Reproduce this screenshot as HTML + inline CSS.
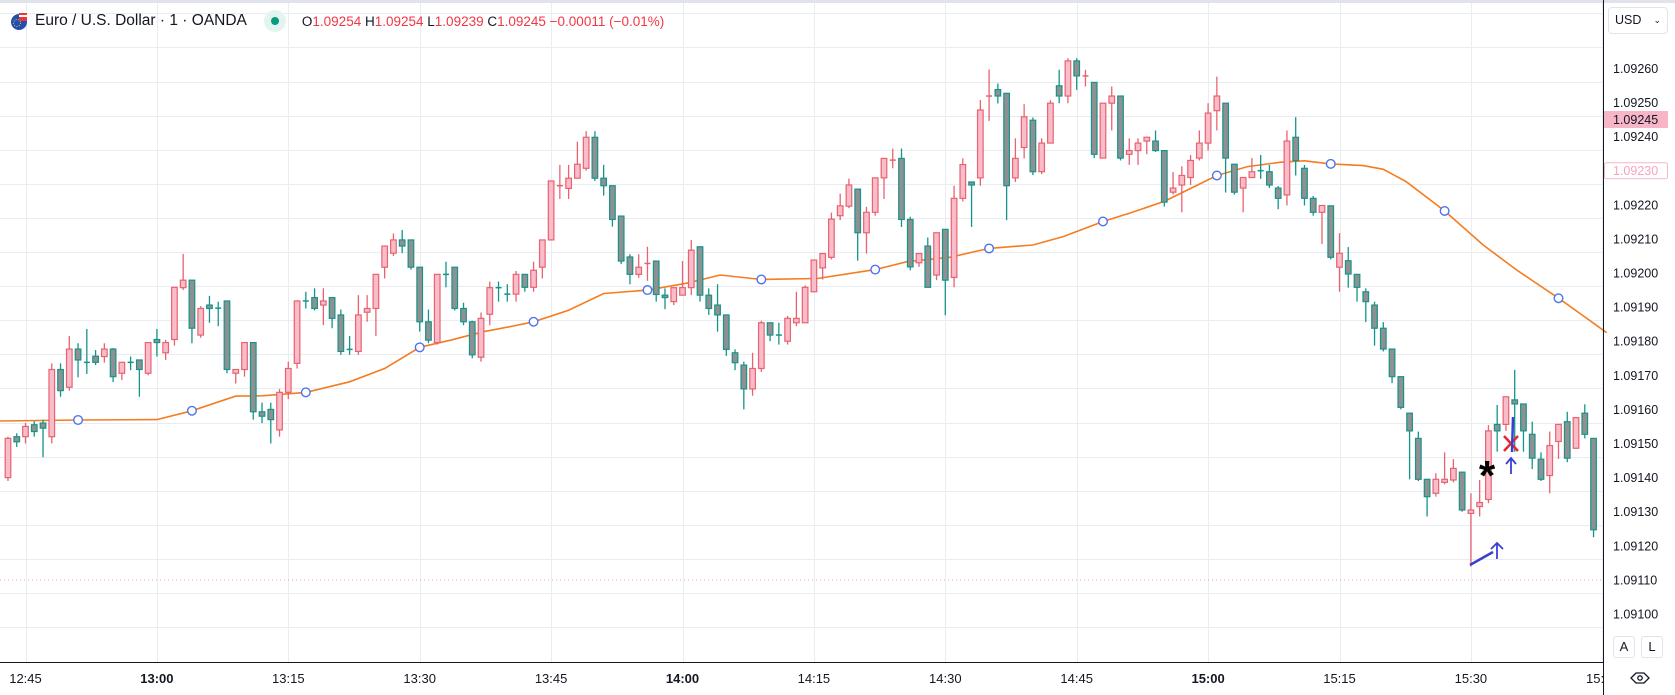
<!DOCTYPE html>
<html><head><meta charset="utf-8">
<style>
html,body{margin:0;padding:0;background:#fff;}
body{width:1675px;height:695px;position:relative;overflow:hidden;font-family:"Liberation Sans",sans-serif;}
#topbar{position:absolute;left:0;top:0;width:1675px;height:3px;background:#e0e3eb;}
#hdr{position:absolute;left:0;top:8px;height:26px;display:flex;align-items:center;white-space:nowrap;}
</style></head>
<body>
<div id="topbar"></div>
<svg id="chart" width="1675" height="695" style="position:absolute;left:0;top:0" xmlns="http://www.w3.org/2000/svg">
  <g id="grid"></g>
  <g id="ma"></g>
  <g id="candles"></g>
  <g id="annot">
    <line x1="0" y1="580" x2="1603" y2="580" stroke="#f2a0b0" stroke-width="1" stroke-dasharray="1,3"/>
    <text x="1487" y="490" font-size="42" font-weight="bold" text-anchor="middle" fill="#000" font-family="Liberation Sans, sans-serif">*</text>
    <g stroke="#e8262d" stroke-width="2.5">
      <line x1="1504" y1="436" x2="1518" y2="451"/><line x1="1518" y1="436" x2="1504" y2="451"/>
    </g>
    <line x1="1513" y1="417" x2="1512" y2="452" stroke="#3a3fd0" stroke-width="2.5"/>
    <g stroke="#3a3fd0" stroke-width="1.8" fill="none">
      <line x1="1511" y1="458" x2="1511" y2="474"/><polyline points="1506,464 1511,458 1516,464"/>
    </g>
    <line x1="1470" y1="565" x2="1493" y2="552" stroke="#3a3fd0" stroke-width="2.5"/>
    <g stroke="#3a3fd0" stroke-width="1.8" fill="none">
      <line x1="1497" y1="543" x2="1497" y2="559"/><polyline points="1491,549 1497,543 1503,549"/>
    </g>
  </g>
  <line x1="1603.5" y1="0" x2="1603.5" y2="695" stroke="#131722" stroke-width="1"/>
  <line x1="0" y1="662.5" x2="1603" y2="662.5" stroke="#131722" stroke-width="1"/>
  <g id="ylabels"></g>
  <g id="xlabels"></g>
</svg>

<div id="hdr">
  <svg width="20" height="20" style="margin-left:9px">
    <circle cx="10" cy="11" r="8" fill="#1f4fb4"/><rect x="10" y="2" width="8" height="8" fill="#e33"/><rect x="10" y="4" width="8" height="2" fill="#fff"/>
    <circle cx="8" cy="12" r="3.5" fill="none" stroke="#fc0" stroke-width="1" stroke-dasharray="1,1.5"/>
  </svg>
  <span style="font-size:15.5px;color:#131722;margin-left:6px">Euro / U.S. Dollar · 1 · OANDA</span>
  <span style="display:inline-block;width:22px;height:22px;border-radius:11px;background:#e3f4ef;margin-left:17px;position:relative"><span style="position:absolute;left:7px;top:7px;width:8px;height:8px;border-radius:4px;background:#089981"></span></span>
  <span style="font-size:13.5px;color:#131722;margin-left:16px">O<span style="color:#f23645">1.09254</span> H<span style="color:#f23645">1.09254</span> L<span style="color:#f23645">1.09239</span> C<span style="color:#f23645">1.09245 −0.00011 (−0.01%)</span></span>
</div>

<div style="position:absolute;left:1608px;top:7px;width:60px;height:27px;border:1px solid #e0e3eb;border-radius:4px;box-sizing:border-box;font-size:12.5px;color:#131722;line-height:25px;padding-left:6px">USD<span style="position:absolute;right:6px;top:0;font-size:9px">⌄</span></div>
<div style="position:absolute;left:1613px;top:636px;width:22px;height:22px;border:1px solid #e0e3eb;border-radius:3px;box-sizing:border-box;font-size:13px;text-align:center;line-height:20px;color:#131722">A</div>
<div style="position:absolute;left:1641px;top:636px;width:22px;height:22px;border:1px solid #e0e3eb;border-radius:3px;box-sizing:border-box;font-size:13px;text-align:center;line-height:20px;color:#131722">L</div>
<svg style="position:absolute;left:1629px;top:670px" width="22" height="16"><path d="M2 8 L7 3 H15 L20 8 L15 13 H7 Z" fill="none" stroke="#131722" stroke-width="1.3"/><circle cx="11" cy="8" r="2.2" fill="none" stroke="#131722" stroke-width="1.3"/></svg>

<script>
// ---- data (price offsets: value v means 1.09v, in 0.00001 units) ----
const startMinute = -2; // minutes relative to 12:45
const opens = [140,152,152,155.5,156,152,171.7,166.5,177.7,173.8,175.6,175.5,177.7,170.6,173.8,174.5,170.6,180.5,176.6,180.5,195.7,197.9,181.8,190.6,189.7,191.8,170.6,171.7,179.6,159.3,160,154,165,173.5,191.8,192.8,190.6,192.8,187.7,177.6,177,188.5,189.6,201.7,205.8,209.7,209.7,201.7,185.7,179.6,199.6,201.7,189.6,185.7,175.3,187.9,195.7,193.8,193.8,199.6,195.8,201.7,209.7,225.6,224.8,227.8,230.7,239.8,227.8,225.6,216.7,204.7,199.6,202.8,203.5,193.5,191.6,193.5,195.7,207.7,193.5,190.6,187.7,176.6,173,166,172,185.4,181.8,180,185.4,185.4,194.5,201.5,204.6,216.8,219.6,224.6,211.8,217.8,227.9,233.1,233.6,215.7,203,207.9,199.4,212.8,198.7,221.9,226.7,227.9,251.9,253.8,252.7,227.9,236.8,244.8,229.7,238.1,254.9,251.9,262.2,257.8,255.9,233.7,249.8,251.9,234.8,235.9,238.7,238.7,235.9,223.7,225.8,228,233.7,238.1,247.6,249.8,231.9,224.9,228,230,229.7,224.9,222.9,239.8,230.7,221.9,217.8,219.7,201.7,203.6,199.6,194.5,190.6,183.8,177.7,169.6,158.9,151.5,139.5,135.4,138.6,139.3,141.6,129.5,131.5,133.6,155.6,155.6,162.8,161.6,152.7,145.4,140.6,150.6,156.4,148.6,158.9,151.5];
const highs = [152,153,156,156.5,157,173.5,173.5,181.5,179.4,183.6,177.4,179.4,178,174,175.5,174.5,179.6,183.6,180.4,195.8,205.6,198,190.3,193.3,191.6,191.8,171.7,179.6,179.6,162,162,166,174,192,194.5,195.5,195.5,193,189.3,181.5,193.5,193.5,199.6,207.9,211.6,212.6,209.7,201.7,189.3,199.6,203.3,201.7,191.3,186,188.4,197.5,197.5,196.7,200.6,199.6,203.3,209.7,227,231.7,231.7,238.5,241.6,241.6,231.7,225.6,216.7,205.5,205.5,207.7,203.5,195.5,195.7,203.5,209.7,207.7,195.5,196.7,187.7,177.6,174,176.6,186,185.4,185.4,187.4,194.5,196.4,203.8,205.7,217.7,223.3,227.7,224.6,219.4,227.9,233.6,236.5,236.5,216.5,205.7,210.4,211.8,212.8,225.6,233.6,226.7,250.7,259.7,255.6,252.7,239.5,249.5,245.6,239.5,250.7,259.6,263,263,259.6,255.9,249.8,254.7,251.9,239.5,239.5,240,241.8,235.9,229.6,231.3,234.6,241.8,249.8,257.6,249.8,232,228,233.7,234.6,231.7,225.5,241.8,245.7,231.7,222.6,219.8,219.7,211.7,207.6,199.6,195.5,191.6,185.6,177.7,169.6,158.9,153.5,139.5,141.3,147.4,145.4,141.6,135.4,139.3,155.4,161.3,163.7,171.6,161.6,156.4,147.4,153.5,155.6,159.3,157.6,161.5,151.5];
const lows = [139,149,150,152,146,150,163.7,165.5,169.4,170.4,173,173.7,168,168.6,171.5,163.7,170,175.5,174.5,178.7,195,179.4,181,185.4,184.4,170.6,167.6,169.6,157,156,150,152,163,172,189.6,189,184.7,183.8,176,176,176,185.7,181.5,198.4,205,205.8,201,182.8,179.4,179,195.8,189,184.7,175,174,184.7,191.6,191.6,191.6,194.5,194.5,198.4,209.7,221.7,221.7,227.8,230,227,222.7,213.6,202.6,196.7,198.6,197.7,191.6,189.4,190.6,193.5,193.5,191.6,187.7,182.8,175.7,171.5,160,164,171,180,179,179,184.4,185.4,194.5,198.1,204,215.5,219,203.6,205.7,216.8,221.7,230.7,213.5,200.8,201.8,195.8,197.9,187.6,195.8,221,213.5,225.6,244.6,249.7,215.5,226.7,233.6,228.7,229,238,249.8,249.8,253.7,254.7,233.7,233.7,241.8,233,231.7,231.7,234.8,235.5,219.5,223,217.8,225.8,233,235.9,241.8,223.6,223,217.8,228,227.6,224.9,218.7,219.8,228.6,219.8,216.8,208.5,204,194.5,195.7,191.6,185.6,178.7,177,167.7,160,139.5,139,128.6,134.4,138,138.6,130,113.9,128.6,132.5,147.6,153.7,147.6,147.6,142.5,139,135.4,145.5,144.5,148.6,151.5,122.5];
const closes = [151.5,150.5,155,153.5,154.5,171.7,165.5,177.7,174.5,173.6,173.8,177.7,169.6,173.8,173.6,171.7,179.6,179.6,179.6,195.8,197.9,183.8,189.6,189.6,189.5,171.7,171.7,179.6,159.3,158,157,165,172,191.8,191.6,189.6,191.8,186.7,177,177.4,187.7,189.6,199.6,207.9,209.7,207.9,201.7,185.7,180.3,199.6,199.4,189.6,185.7,176,186.7,195.7,195.5,193.6,199.6,195.8,200.8,209.7,227,225.6,227.8,231.9,239.8,227.8,225.6,215.7,203.5,199.6,201.7,202.8,193.7,192.8,195.7,195.7,206.7,193.5,189.6,187.7,177.6,173.7,166,172,185.4,181.8,181.6,186.7,186.7,195.8,203.8,205.7,215.8,219.7,225.8,211.8,217.8,227.9,233.6,233.1,215.7,201.8,205.7,195.8,211.8,197.9,221.9,231.8,225.8,247.8,251.9,251.9,225.6,233.6,245.8,229.7,238.1,249.8,251.9,262.2,257.8,257.8,234.8,249.8,251.9,233.7,235.9,238.1,239.8,235.9,220.8,224.9,228.6,233,238.1,246.9,251.9,233.7,223.7,228,229.7,229.9,225.8,221.9,238.7,233,221.9,217.8,219.8,204.6,205.8,199.7,195.8,191.6,183.8,177.7,169.6,160.6,153.7,139.5,134.4,139.5,139.5,142.7,130.5,130.5,132.7,153.7,153.7,163.7,161.6,153.7,145.7,139.5,149.4,155.6,145.7,157.6,152.7,124.7];
// moving average (minute index, value)
const maIdx = [-3,6,15,19,24,27,32,37,41,45,48.5,52.3,55.4,58,62,66,71,75.5,79.3,84,90.4,97,100.6,105.5,110,115,118.5,123,126,130,133.8,136,139.5,143.3,146,149,152.7,155,157.6,162,166.4,170.2,175,177.8,180.5];
const maVal = [156.6,156.9,157,159.6,163.9,164,165,168.1,172,178.2,180.3,182.8,184.3,185.7,189.1,194,195,197,199.4,198.1,198.4,201,203.3,204.6,207.2,208.2,210.7,215.1,217.5,221,225.8,228.6,231.2,232.5,232.9,232,231.5,230.4,226.8,218.2,208.2,200.9,192.6,187.5,182.5];
const maMarkers = [6,19,32,45,58,71,84,97,110,123,136,149,162,175];
const priceTicks = [260,250,240,220,210,200,190,180,170,160,150,140,130,120,110,100];
const timeLabels = ["12:45","13:00","13:15","13:30","13:45","14:00","14:15","14:30","14:45","15:00","15:15","15:30","15:45"];
const boldLabels = ["13:00","14:00","15:00"];

const NS = "http://www.w3.org/2000/svg";
function xOf(i){ return 25.5 + i*8.76; }
function yOf(p){ return 68.4 + (260-p)*3.41; }
function mk(tag, attrs, parent){ const e=document.createElementNS(NS,tag); for(const k in attrs) e.setAttribute(k,attrs[k]); parent.appendChild(e); return e; }

const grid=document.getElementById('grid');
for(let p=270;p>=90;p-=10){
  const y=Math.round(yOf(p)-21)+0.5;
  const l=mk('line',{x1:0,x2:1603,y1:y,y2:y,stroke:'#e9edf2','stroke-width':1},grid);
  
  
}
for(let k=0;k<timeLabels.length;k++){
  const x=Math.round(xOf(k*15))+0.5;
  if(x>1603) continue;
  const l=mk('line',{x1:x,x2:x,y1:3,y2:662,stroke:'#e9edf2','stroke-width':1},grid);
  
  
}

// MA
const ma=document.getElementById('ma');
let d='';
for(let k=0;k<maIdx.length;k++){ d+=(k?'L':'M')+xOf(maIdx[k]).toFixed(1)+' '+yOf(maVal[k]).toFixed(1)+' '; }
const mp=mk('path',{d:d,fill:'none',stroke:'#f57c1f','stroke-width':1.6},ma);


function maAt(i){ for(let k=1;k<maIdx.length;k++){ if(i<=maIdx[k]){ const t=(i-maIdx[k-1])/(maIdx[k]-maIdx[k-1]); return maVal[k-1]+t*(maVal[k]-maVal[k-1]); } } return maVal[maVal.length-1]; }

// candles
const cg=document.getElementById('candles');
for(let k=0;k<opens.length;k++){
  const i=startMinute+k, x=xOf(i);
  const o=opens[k],h=highs[k],l=lows[k],c=closes[k];
  const up=c>=o;
  const stroke=up?'#e8636f':'#15958a';
  const fill=up?'#f9bccb':'#8f9091';
  const g=mk('g',{},cg);
  
  
  mk('line',{x1:x,x2:x,y1:yOf(h),y2:yOf(l),stroke:stroke,'stroke-width':1.3},g);
  const top=yOf(Math.max(o,c)), bot=yOf(Math.min(o,c));
  if(bot-top<1.5){
    mk('line',{x1:x-3,x2:x+3,y1:top,y2:top,stroke:stroke,'stroke-width':1.5},g);
  } else {
    mk('rect',{x:x-2.8,y:top,width:5.6,height:bot-top,fill:fill,stroke:stroke,'stroke-width':1.2},g);
  }
}
for(const i of maMarkers){
  const c=mk('circle',{cx:xOf(i),cy:yOf(maAt(i)),r:4.3,fill:'#fff',stroke:'#4e73f0','stroke-width':1.4},ma);
  
  
}

// price axis
const yl=document.getElementById('ylabels');
for(const p of priceTicks){
  const t=mk('text',{x:1613,y:yOf(p)+4.5,'font-size':12.5,fill:'#131722','font-family':'Liberation Sans, sans-serif'},yl);
  t.textContent='1.09'+String(p);
  
  
}
const br=mk('rect',{x:1604,y:yOf(245)-8.5,width:64,height:17,fill:'#f7b6c8',rx:1},yl);


const bt=mk('text',{x:1613,y:yOf(245)+4.5,'font-size':12.5,fill:'#131722','font-family':'Liberation Sans, sans-serif'},yl);
bt.textContent='1.09245';


const mr=mk('rect',{x:1604.5,y:yOf(230)-8,width:63,height:16,fill:'#fff',stroke:'#f7b6c8',rx:2},yl);


const mt=mk('text',{x:1613,y:yOf(230)+4.5,'font-size':12.5,fill:'#f3a6bb','font-family':'Liberation Sans, sans-serif'},yl);
mt.textContent='1.09230';



// time axis
const xl=document.getElementById('xlabels');
const clip=mk('clipPath',{id:'tclip'},xl);
mk('rect',{x:0,y:662,width:1603,height:33},clip);
for(let k=0;k<timeLabels.length;k++){
  const s=timeLabels[k];
  const t=mk('text',{x:xOf(k*15),y:683,'text-anchor':'middle','font-size':13,fill:'#131722','font-family':'Liberation Sans, sans-serif','font-weight':boldLabels.includes(s)?'bold':'normal','clip-path':'url(#tclip)'},xl);
  t.textContent=s;
  
  
}
</script>
</body></html>
